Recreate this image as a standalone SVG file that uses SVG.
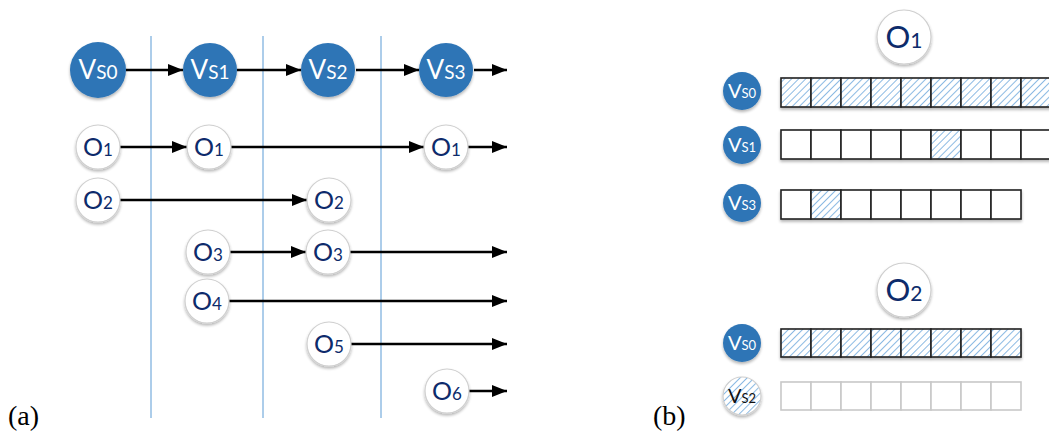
<svg xmlns="http://www.w3.org/2000/svg" width="1049" height="437" viewBox="0 0 1049 437">
<defs>
<marker id="ah" markerUnits="userSpaceOnUse" markerWidth="16" markerHeight="12" refX="15" refY="6" orient="auto">
<path d="M0,0 L15,6 L0,12 z" fill="#000"/>
</marker>
<pattern id="hatch" patternUnits="userSpaceOnUse" width="5" height="5" patternTransform="rotate(45)">
<rect width="5" height="5" fill="#fff"/>
<line x1="0" y1="0" x2="0" y2="5" stroke="#6fa8dc" stroke-width="1.6"/>
</pattern>
<filter id="sh" x="-30%" y="-30%" width="160%" height="170%">
<feGaussianBlur in="SourceAlpha" stdDeviation="1.6"/>
<feOffset dx="0" dy="2" result="b"/>
<feComponentTransfer><feFuncA type="linear" slope="0.3"/></feComponentTransfer>
<feMerge><feMergeNode/><feMergeNode in="SourceGraphic"/></feMerge>
</filter>
</defs>
<style>
.vs{fill:#2e75b6;filter:url(#sh)}
.oc{fill:#fff;stroke:#cfcfcf;stroke-width:1.2;filter:url(#sh)}
.vt{fill:#fff;font-family:Lato,"Open Sans",sans-serif;text-anchor:middle}
.ot{fill:#0d2b6b;font-family:Lato,"Open Sans",sans-serif;text-anchor:middle}
.sep{stroke:#5b9bd5;stroke-width:1}
.ar{stroke:#000;stroke-width:2.6;fill:none;marker-end:url(#ah)}
.cell{stroke:#222;stroke-width:1.6}
.gcell{fill:#fff;stroke:#c8c8c8;stroke-width:1.6}
.lbl{font-family:"Liberation Serif",serif;font-size:28px;fill:#000}
</style>
<rect width="1049" height="437" fill="#fff"/>

<g id="separators">
<line class="sep" x1="151" y1="36" x2="151" y2="418"/>
<line class="sep" x1="263" y1="36" x2="263" y2="418"/>
<line class="sep" x1="381" y1="36" x2="381" y2="418"/>
</g>

<g id="connectors">
<line class="ar" x1="126" y1="70" x2="183" y2="70"/>
<line class="ar" x1="237" y1="70" x2="301" y2="70"/>
<line class="ar" x1="356" y1="70" x2="419" y2="70"/>
<line class="ar" x1="474" y1="70" x2="507" y2="70"/>
<line class="ar" x1="120" y1="147" x2="187" y2="147"/>
<line class="ar" x1="231" y1="147" x2="424" y2="147"/>
<line class="ar" x1="468" y1="147" x2="507" y2="147"/>
<line class="ar" x1="120" y1="200" x2="307" y2="200"/>
<line class="ar" x1="230" y1="252" x2="306" y2="252"/>
<line class="ar" x1="350" y1="252" x2="507" y2="252"/>
<line class="ar" x1="229" y1="301" x2="507" y2="301"/>
<line class="ar" x1="351" y1="344" x2="507" y2="344"/>
<line class="ar" x1="469" y1="391" x2="507" y2="391"/>
</g>

<g id="vs0"><circle class="vs" cx="98" cy="70" r="28"/><text class="vt" x="98" y="79"><tspan font-size="26">V</tspan><tspan font-size="19">S0</tspan></text></g>
<g id="vs1"><circle class="vs" cx="210" cy="70" r="27"/><text class="vt" x="210" y="79"><tspan font-size="26">V</tspan><tspan font-size="19">S1</tspan></text></g>
<g id="vs2"><circle class="vs" cx="328" cy="70" r="27"/><text class="vt" x="328" y="79"><tspan font-size="26">V</tspan><tspan font-size="19">S2</tspan></text></g>
<g id="vs3"><circle class="vs" cx="446" cy="70" r="27"/><text class="vt" x="446" y="79"><tspan font-size="26">V</tspan><tspan font-size="19">S3</tspan></text></g>

<g id="o1a"><circle class="oc" cx="98" cy="147" r="22"/><text class="ot" x="98" y="156"><tspan font-size="25">O</tspan><tspan font-size="17">1</tspan></text></g>
<g id="o1b"><circle class="oc" cx="209" cy="147" r="22"/><text class="ot" x="209" y="156"><tspan font-size="25">O</tspan><tspan font-size="17">1</tspan></text></g>
<g id="o1c"><circle class="oc" cx="446" cy="147" r="22"/><text class="ot" x="446" y="156"><tspan font-size="25">O</tspan><tspan font-size="17">1</tspan></text></g>
<g id="o2a"><circle class="oc" cx="98" cy="200" r="22"/><text class="ot" x="98" y="209"><tspan font-size="25">O</tspan><tspan font-size="17">2</tspan></text></g>
<g id="o2b"><circle class="oc" cx="329" cy="200" r="22"/><text class="ot" x="329" y="209"><tspan font-size="25">O</tspan><tspan font-size="17">2</tspan></text></g>
<g id="o3a"><circle class="oc" cx="208" cy="252" r="22"/><text class="ot" x="208" y="261"><tspan font-size="25">O</tspan><tspan font-size="17">3</tspan></text></g>
<g id="o3b"><circle class="oc" cx="328" cy="252" r="22"/><text class="ot" x="328" y="261"><tspan font-size="25">O</tspan><tspan font-size="17">3</tspan></text></g>
<g id="o4"><circle class="oc" cx="207" cy="301" r="22"/><text class="ot" x="207" y="310"><tspan font-size="25">O</tspan><tspan font-size="17">4</tspan></text></g>
<g id="o5"><circle class="oc" cx="329" cy="344" r="22"/><text class="ot" x="329" y="353"><tspan font-size="25">O</tspan><tspan font-size="17">5</tspan></text></g>
<g id="o6"><circle class="oc" cx="447" cy="391" r="22"/><text class="ot" x="447" y="400"><tspan font-size="25">O</tspan><tspan font-size="17">6</tspan></text></g>

<text class="lbl" x="8" y="425">(a)</text>

<!-- panel b -->
<g id="b-o1"><circle class="oc" cx="904" cy="37" r="27"/><text class="ot" x="904" y="48"><tspan font-size="31">O</tspan><tspan font-size="21">1</tspan></text></g>

<g id="b-vs0a"><circle class="vs" cx="742" cy="91" r="19"/><text class="vt" x="742" y="98"><tspan font-size="20">V</tspan><tspan font-size="13">S0</tspan></text></g>
<g id="grid-vs0a" filter="url(#sh)">
<rect class="cell" x="781" y="78" width="30" height="29" fill="url(#hatch)"/>
<rect class="cell" x="811" y="78" width="30" height="29" fill="url(#hatch)"/>
<rect class="cell" x="841" y="78" width="30" height="29" fill="url(#hatch)"/>
<rect class="cell" x="871" y="78" width="30" height="29" fill="url(#hatch)"/>
<rect class="cell" x="901" y="78" width="30" height="29" fill="url(#hatch)"/>
<rect class="cell" x="931" y="78" width="30" height="29" fill="url(#hatch)"/>
<rect class="cell" x="961" y="78" width="30" height="29" fill="url(#hatch)"/>
<rect class="cell" x="991" y="78" width="30" height="29" fill="url(#hatch)"/>
<rect class="cell" x="1021" y="78" width="30" height="29" fill="url(#hatch)"/>
</g>

<g id="b-vs1"><circle class="vs" cx="742" cy="145" r="19"/><text class="vt" x="742" y="152"><tspan font-size="20">V</tspan><tspan font-size="13">S1</tspan></text></g>
<g id="grid-vs1" filter="url(#sh)">
<rect class="cell" x="781" y="130" width="30" height="29" fill="#fff"/>
<rect class="cell" x="811" y="130" width="30" height="29" fill="#fff"/>
<rect class="cell" x="841" y="130" width="30" height="29" fill="#fff"/>
<rect class="cell" x="871" y="130" width="30" height="29" fill="#fff"/>
<rect class="cell" x="901" y="130" width="30" height="29" fill="#fff"/>
<rect class="cell" x="931" y="130" width="30" height="29" fill="url(#hatch)"/>
<rect class="cell" x="961" y="130" width="30" height="29" fill="#fff"/>
<rect class="cell" x="991" y="130" width="30" height="29" fill="#fff"/>
<rect class="cell" x="1021" y="130" width="30" height="29" fill="#fff"/>
</g>

<g id="b-vs3"><circle class="vs" cx="742" cy="203" r="19"/><text class="vt" x="742" y="210"><tspan font-size="20">V</tspan><tspan font-size="13">S3</tspan></text></g>
<g id="grid-vs3" filter="url(#sh)">
<rect class="cell" x="781" y="190" width="30" height="29" fill="#fff"/>
<rect class="cell" x="811" y="190" width="30" height="29" fill="url(#hatch)"/>
<rect class="cell" x="841" y="190" width="30" height="29" fill="#fff"/>
<rect class="cell" x="871" y="190" width="30" height="29" fill="#fff"/>
<rect class="cell" x="901" y="190" width="30" height="29" fill="#fff"/>
<rect class="cell" x="931" y="190" width="30" height="29" fill="#fff"/>
<rect class="cell" x="961" y="190" width="30" height="29" fill="#fff"/>
<rect class="cell" x="991" y="190" width="30" height="29" fill="#fff"/>
</g>

<g id="b-o2"><circle class="oc" cx="904" cy="290" r="27"/><text class="ot" x="904" y="301"><tspan font-size="31">O</tspan><tspan font-size="21">2</tspan></text></g>

<g id="b-vs0b"><circle class="vs" cx="742" cy="343" r="19"/><text class="vt" x="742" y="350"><tspan font-size="20">V</tspan><tspan font-size="13">S0</tspan></text></g>
<g id="grid-vs0b" filter="url(#sh)">
<rect class="cell" x="781" y="329" width="30" height="28" fill="url(#hatch)"/>
<rect class="cell" x="811" y="329" width="30" height="28" fill="url(#hatch)"/>
<rect class="cell" x="841" y="329" width="30" height="28" fill="url(#hatch)"/>
<rect class="cell" x="871" y="329" width="30" height="28" fill="url(#hatch)"/>
<rect class="cell" x="901" y="329" width="30" height="28" fill="url(#hatch)"/>
<rect class="cell" x="931" y="329" width="30" height="28" fill="url(#hatch)"/>
<rect class="cell" x="961" y="329" width="30" height="28" fill="url(#hatch)"/>
<rect class="cell" x="991" y="329" width="30" height="28" fill="url(#hatch)"/>
</g>

<g id="b-vs2"><circle cx="742" cy="396" r="19" fill="url(#hatch)" stroke="#cfcfcf" stroke-width="1.2" filter="url(#sh)"/><text x="742" y="403" font-family="Lato,'Open Sans',sans-serif" text-anchor="middle" fill="#111"><tspan font-size="20">V</tspan><tspan font-size="13">S2</tspan></text></g>
<g id="grid-vs2">
<rect class="gcell" x="781" y="382" width="30" height="28"/>
<rect class="gcell" x="811" y="382" width="30" height="28"/>
<rect class="gcell" x="841" y="382" width="30" height="28"/>
<rect class="gcell" x="871" y="382" width="30" height="28"/>
<rect class="gcell" x="901" y="382" width="30" height="28"/>
<rect class="gcell" x="931" y="382" width="30" height="28"/>
<rect class="gcell" x="961" y="382" width="30" height="28"/>
<rect class="gcell" x="991" y="382" width="30" height="28"/>
</g>

<text class="lbl" x="653" y="425">(b)</text>
</svg>
